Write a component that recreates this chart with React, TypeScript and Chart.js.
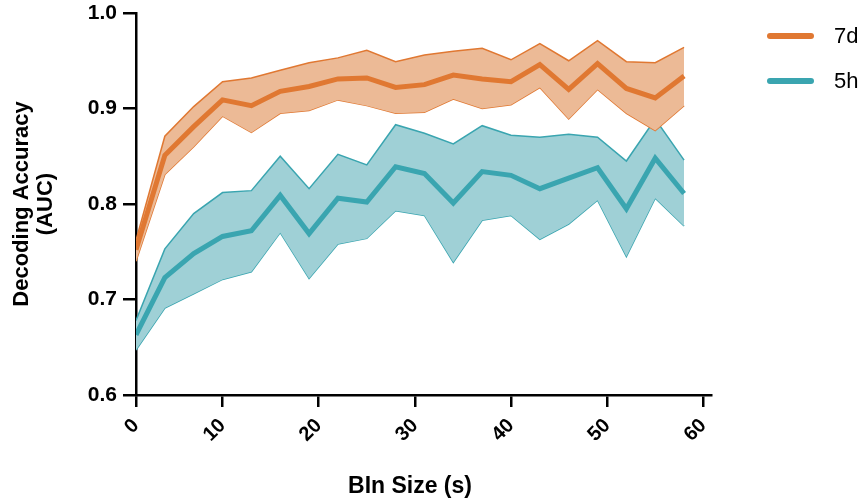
import React, { useEffect, useRef } from "react";
import { Chart, registerables } from "chart.js";

Chart.register(...registerables);

const binSizes = [1, 4, 7, 10, 13, 16, 19, 22, 25, 28, 31, 34, 37, 40, 43, 46, 49, 52, 55, 58];
const xTickValues = [1, 10, 20, 30, 40, 50, 60];
const xTickLabels = ["0", "10", "20", "30", "40", "50", "60"];

const mean7d = [0.752, 0.851, 0.881, 0.909, 0.903, 0.918, 0.923, 0.931, 0.932, 0.922, 0.925, 0.935, 0.931, 0.928, 0.946, 0.920, 0.947, 0.921, 0.911, 0.934];
const upper7d = [0.762, 0.871, 0.902, 0.928, 0.932, 0.940, 0.948, 0.953, 0.961, 0.949, 0.956, 0.960, 0.963, 0.951, 0.968, 0.950, 0.971, 0.949, 0.948, 0.964];
const lower7d = [0.740, 0.831, 0.860, 0.892, 0.875, 0.895, 0.898, 0.909, 0.903, 0.895, 0.896, 0.910, 0.900, 0.904, 0.922, 0.889, 0.920, 0.895, 0.877, 0.903];

const mean5h = [0.663, 0.723, 0.748, 0.766, 0.772, 0.809, 0.769, 0.806, 0.802, 0.839, 0.832, 0.801, 0.834, 0.830, 0.816, 0.827, 0.838, 0.795, 0.848, 0.811];
const upper5h = [0.678, 0.753, 0.790, 0.812, 0.814, 0.850, 0.816, 0.852, 0.841, 0.883, 0.874, 0.863, 0.882, 0.872, 0.870, 0.873, 0.870, 0.845, 0.889, 0.846];
const lower5h = [0.647, 0.691, 0.706, 0.721, 0.729, 0.770, 0.722, 0.758, 0.764, 0.793, 0.788, 0.739, 0.783, 0.788, 0.763, 0.779, 0.804, 0.745, 0.806, 0.777];

const seriesNames = ["7d", "5h"];
const lineColors = ["rgb(224,120,50)", "rgb(58,165,176)"];
const fillColors = ["rgb(236,186,150)", "rgb(159,208,214)"];

const FONT = "'Liberation Sans', Arial, Helvetica, sans-serif";

function pts(ys: number[]) {
  return ys.map((y, i) => ({ x: binSizes[i], y }));
}

export default function App() {
  const ref = useRef<HTMLCanvasElement | null>(null);

  useEffect(() => {
    document.body.style.margin = "0";
    const canvas = ref.current;
    if (!canvas) return;

    const overlay = {
      id: "overlay",
      afterDraw(chart: any) {
        const ctx = chart.ctx;
        ctx.save();
        const ly = [36, 81];
        seriesNames.forEach((name, i) => {
          ctx.strokeStyle = lineColors[i];
          ctx.lineWidth = 6;
          ctx.lineCap = "round";
          ctx.beginPath();
          ctx.moveTo(770, ly[i]);
          ctx.lineTo(811, ly[i]);
          ctx.stroke();
          ctx.fillStyle = "#000";
          ctx.font = `22px ${FONT}`;
          ctx.textAlign = "left";
          ctx.textBaseline = "middle";
          ctx.fillText(name, 834, ly[i] + 1);
        });
        ctx.save();
        ctx.translate(34, 204);
        ctx.rotate(-Math.PI / 2);
        ctx.font = `bold 22px ${FONT}`;
        ctx.textAlign = "center";
        ctx.textBaseline = "middle";
        ctx.fillStyle = "#000";
        ctx.fillText("Decoding Accuracy", 0, -12);
        ctx.fillText("(AUC)", 0, 12);
        ctx.restore();
        ctx.font = `bold 23px ${FONT}`;
        ctx.textAlign = "center";
        ctx.textBaseline = "middle";
        ctx.fillStyle = "#000";
        ctx.fillText("BIn Size (s)", 410, 487);
        ctx.restore();
      },
    };

    const band = { pointRadius: 0, tension: 0, borderWidth: 1.5 };

    const chart = new Chart(canvas, {
      type: "line",
      data: {
        datasets: [
          { label: "7d upper", data: pts(upper7d), borderColor: lineColors[0], backgroundColor: fillColors[0], fill: "+1", order: 1, ...band },
          { label: "7d lower", data: pts(lower7d), borderColor: lineColors[0], fill: false, order: 1, ...band },
          { label: "7d", data: pts(mean7d), borderColor: lineColors[0], borderWidth: 5, pointRadius: 0, fill: false, tension: 0, order: 0 },
          { label: "5h upper", data: pts(upper5h), borderColor: lineColors[1], backgroundColor: fillColors[1], fill: "+1", order: 2, ...band },
          { label: "5h lower", data: pts(lower5h), borderColor: lineColors[1], fill: false, order: 2, ...band },
          { label: "5h", data: pts(mean5h), borderColor: lineColors[1], borderWidth: 5, pointRadius: 0, fill: false, tension: 0, order: 0 },
        ],
      },
      options: {
        responsive: false,
        animation: false,
        layout: { padding: { left: 0, right: 154, top: 13, bottom: 0 } },
        plugins: { legend: { display: false }, tooltip: { enabled: false } },
        scales: {
          x: {
            type: "linear",
            min: 1,
            max: 60.8,
            afterBuildTicks(scale: any) {
              scale.ticks = xTickValues.map((v) => ({ value: v }));
            },
            afterFit(scale: any) {
              scale.height = 105;
              scale.paddingLeft = 0;
              scale.paddingRight = 0;
            },
            ticks: {
              autoSkip: false,
              minRotation: 45,
              maxRotation: 45,
              padding: 7,
              color: "#000",
              font: { family: FONT, size: 20, weight: "bold" },
              callback: (v: any) => {
                const i = xTickValues.indexOf(Number(v));
                return i >= 0 ? xTickLabels[i] : "";
              },
            },
            grid: { drawOnChartArea: false, drawTicks: true, tickLength: 12, color: "#000", lineWidth: 2.5 },
            border: { display: true, color: "#000", width: 2.5 },
          },
          y: {
            min: 0.6,
            max: 1.0,
            afterFit(scale: any) {
              scale.width = 136;
              scale.paddingTop = 0;
              scale.paddingBottom = 0;
            },
            ticks: {
              stepSize: 0.1,
              padding: 6,
              color: "#000",
              font: { family: FONT, size: 21, weight: "bold" },
              callback: (v: any) => Number(v).toFixed(1),
            },
            grid: { drawOnChartArea: false, drawTicks: true, tickLength: 13, color: "#000", lineWidth: 2.5 },
            border: { display: true, color: "#000", width: 2.5 },
          },
        },
      },
      plugins: [overlay],
    } as any);

    return () => chart.destroy();
  }, []);

  return (
    <div style={{ width: 865, height: 500, background: "#fff" }}>
      <canvas ref={ref} width={865} height={500} />
    </div>
  );
}
